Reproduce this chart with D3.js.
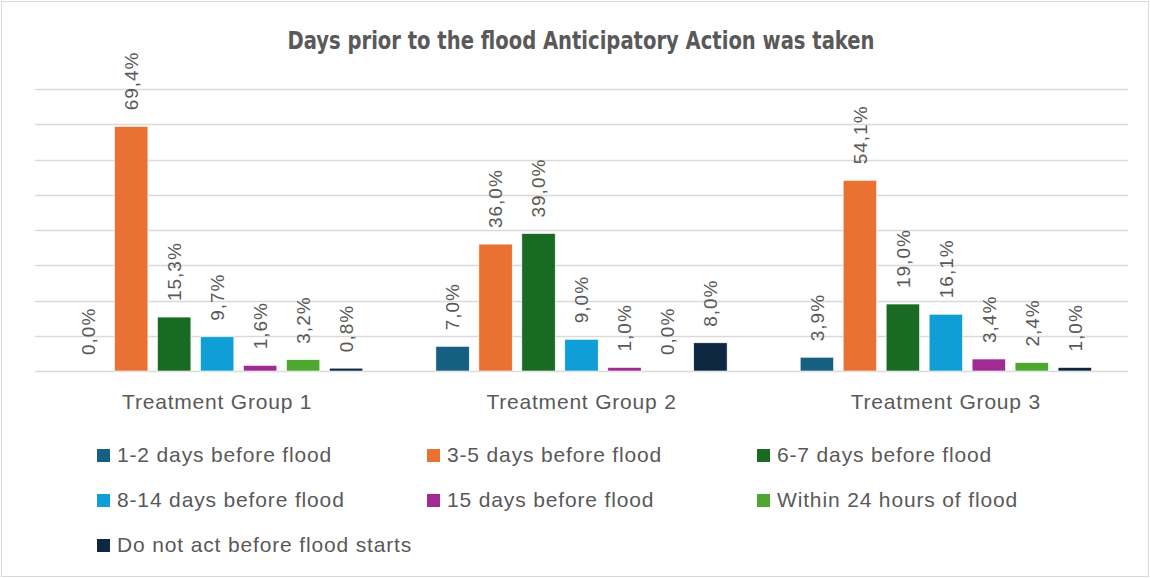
<!DOCTYPE html>
<html>
<head>
<meta charset="utf-8">
<script src="https://cdn.jsdelivr.net/npm/d3@7"></script>
<style>
  body { margin: 0; background: #fff; }
  text { font-family: "Liberation Sans", Arial, sans-serif; fill: #595959; }
</style>
</head>
<body>
<div id="chart"></div>
<script>
// Chart data
const groups = ["Treatment Group 1", "Treatment Group 2", "Treatment Group 3"];
const series = [
  "1-2 days before flood",
  "3-5 days before flood",
  "6-7 days before flood",
  "8-14 days before flood",
  "15 days before flood",
  "Within 24 hours of flood",
  "Do not act before flood starts"
];
// one array per group, in series order
const group1 = [0.0, 69.4, 15.3, 9.7, 1.6, 3.2, 0.8];
const group2 = [7.0, 36.0, 39.0, 9.0, 1.0, 0.0, 8.0];
const group3 = [3.9, 54.1, 19.0, 16.1, 3.4, 2.4, 1.0];
const yTicks = [0, 10, 20, 30, 40, 50, 60, 70, 80];
const colors = ["#156082", "#E97132", "#196B24", "#0F9ED5", "#A02B93", "#4EA72E", "#0E2841"];

const values = [group1, group2, group3];

const svgWidth = 1150;
const svgHeight = 578;
const plot = { left: 35, right: 1128, top: 89, bottom: 371 };

const svg = d3.select("#chart")
  .append("svg")
  .attr("width", svgWidth)
  .attr("height", svgHeight);

// outer frame
svg.append("rect")
  .attr("x", 1.5).attr("y", 1.5)
  .attr("width", svgWidth - 3).attr("height", svgHeight - 3)
  .attr("fill", "#fff")
  .attr("stroke", "#d9d9d9");

// Title
svg.append("text")
  .attr("x", 581)
  .attr("y", 49)
  .attr("text-anchor", "middle")
  .style("font-family", "'Liberation Sans Narrow', 'DejaVu Sans Condensed', 'Liberation Sans', sans-serif")
  .style("font-weight", "bold")
  .style("font-size", "24px")
  .attr("textLength", 587)
  .attr("lengthAdjust", "spacingAndGlyphs")
  .text("Days prior to the flood Anticipatory Action was taken");

// scales
const x0 = d3.scaleBand()
  .domain(groups)
  .range([plot.left, plot.right])
  .paddingInner(0)
  .paddingOuter(0);

const x1 = d3.scaleBand()
  .domain(series)
  .range([0, x0.bandwidth()])
  .paddingInner(0.223)
  .paddingOuter(0.85);

const y = d3.scaleLinear()
  .domain([0, 80])
  .range([plot.bottom, plot.top]);

// gridlines
svg.append("g")
  .selectAll("line")
  .data(yTicks)
  .enter()
  .append("line")
  .attr("x1", plot.left)
  .attr("x2", plot.right)
  .attr("y1", d => Math.round(y(d)) + 0.5)
  .attr("y2", d => Math.round(y(d)) + 0.5)
  .attr("stroke", "#d9d9d9")
  .attr("stroke-width", 1.3);

// bars
const fmt = v => d3.format(".1f")(v).replace(".", ",") + "%";

const groupG = svg.selectAll(".group")
  .data(groups)
  .enter()
  .append("g")
  .attr("class", "group")
  .attr("transform", d => `translate(${x0(d)},0)`);

groupG.selectAll("rect")
  .data((g, i) => values[i].map((v, j) => ({ key: series[j], value: v, color: colors[j] })))
  .enter()
  .append("rect")
  .attr("x", d => x1(d.key))
  .attr("width", x1.bandwidth())
  .attr("y", d => y(d.value))
  .attr("height", d => y(0) - y(d.value))
  .attr("fill", d => d.color)
  .attr("stroke", "#fff")
  .attr("stroke-width", 0.6);

// value labels, rotated
groupG.selectAll(".val")
  .data((g, i) => values[i].map((v, j) => ({ key: series[j], value: v })))
  .enter()
  .append("text")
  .attr("class", "val")
  .attr("transform", d => `translate(${x1(d.key) + x1.bandwidth() / 2}, ${y(d.value) - 16}) rotate(-90)`)
  .attr("dy", "0.36em")
  .style("font-size", "19px")
  .style("letter-spacing", "1px")
  .text(d => fmt(d.value));

// category labels
svg.append("g")
  .selectAll("text")
  .data(groups)
  .enter()
  .append("text")
  .attr("x", d => x0(d) + x0.bandwidth() / 2)
  .attr("y", 409)
  .attr("text-anchor", "middle")
  .style("font-size", "21px")
  .style("letter-spacing", "0.8px")
  .text(d => d);

// legend
const legendCols = [97, 427, 757];
const legendRows = [462, 507, 552];

const legend = svg.append("g")
  .selectAll("g")
  .data(series)
  .enter()
  .append("g")
  .attr("transform", (d, i) => `translate(${legendCols[i % 3]}, ${legendRows[Math.floor(i / 3)]})`);

legend.append("rect")
  .attr("x", 0)
  .attr("y", -13)
  .attr("width", 13)
  .attr("height", 13)
  .attr("fill", (d, i) => colors[i]);

legend.append("text")
  .attr("x", 20)
  .attr("y", 0)
  .style("font-size", "21px")
  .style("letter-spacing", "0.85px")
  .text(d => d);
</script>
</body>
</html>
